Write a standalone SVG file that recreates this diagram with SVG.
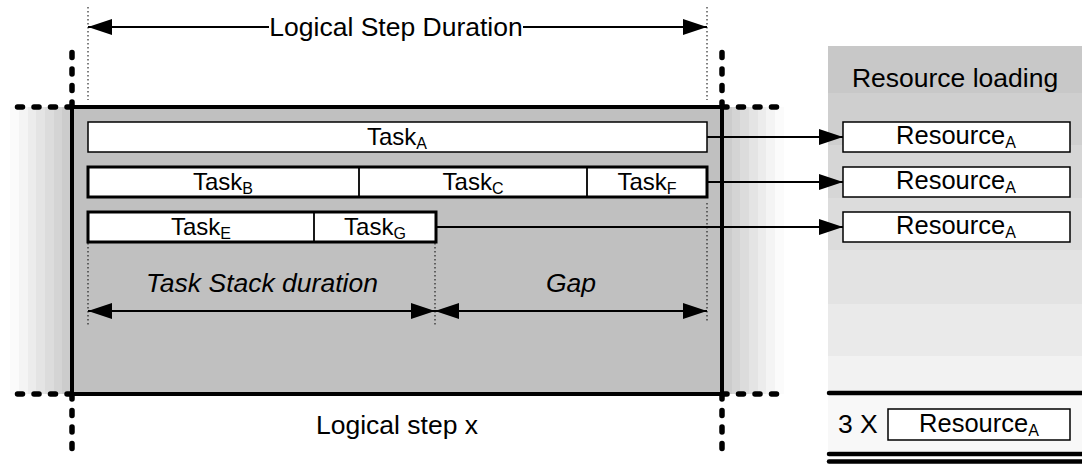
<svg xmlns="http://www.w3.org/2000/svg" width="1082" height="464" viewBox="0 0 1082 464">
  <style>
    text { font-family: "Liberation Sans", Arial, sans-serif; fill: #000; }
    .head { font-size: 26.5px; }
    .ital { font-size: 26.5px; font-style: italic; }
    .task { font-size: 24px; text-anchor: middle; }
    .res { font-size: 25.5px; text-anchor: middle; }
    .sub { font-size: 16px; }
    .box { fill: #fff; stroke: #000; stroke-width: 1.5; }
    .boxb { fill: #fff; stroke: #000; stroke-width: 3; }
    .div { stroke: #000; stroke-width: 1.8; }
    .dash { fill: none; stroke: #000; stroke-width: 5.5; stroke-linecap: round; stroke-dasharray: 5 11.5; }
    .dot { fill: none; stroke: #000; stroke-width: 1; stroke-dasharray: 1.5 2.5; }
    .dim { fill: none; stroke: #000; stroke-width: 2; }
    .link { fill: none; stroke: #000; stroke-width: 1.8; marker-end: url(#head); }
    .rule { fill: none; stroke: #000; stroke-width: 4.5; stroke-linecap: round; }
  </style>
  <defs>
    <marker id="head" markerUnits="userSpaceOnUse" markerWidth="24" markerHeight="16" refX="24" refY="8" orient="auto-start-reverse" viewBox="0 0 24 16">
      <path d="M0,0 L24,8 L0,16 z" fill="#000"/>
    </marker>
  </defs>

  <rect width="1082" height="464" fill="#fff"/>

  <!-- fading edges either side of the step -->
  <g id="fade-left">
    <rect x="10" y="107" width="9" height="287" fill="#fbfbfb"/>
    <rect x="19" y="107" width="9" height="287" fill="#f4f4f4"/>
    <rect x="28" y="107" width="8" height="287" fill="#ececec"/>
    <rect x="36" y="107" width="9" height="287" fill="#e4e4e4"/>
    <rect x="45" y="107" width="9" height="287" fill="#dcdcdc"/>
    <rect x="54" y="107" width="8" height="287" fill="#d4d4d4"/>
    <rect x="62" y="107" width="10" height="287" fill="#cccccc"/>
  </g>
  <g id="fade-right">
    <rect x="722" y="107" width="10" height="287" fill="#cccccc"/>
    <rect x="732" y="107" width="8" height="287" fill="#d4d4d4"/>
    <rect x="740" y="107" width="9" height="287" fill="#dcdcdc"/>
    <rect x="749" y="107" width="9" height="287" fill="#e4e4e4"/>
    <rect x="758" y="107" width="8" height="287" fill="#ececec"/>
    <rect x="766" y="107" width="9" height="287" fill="#f4f4f4"/>
    <rect x="775" y="107" width="9" height="287" fill="#fbfbfb"/>
  </g>

  <!-- resource loading panel -->
  <g id="resource-panel">
    <rect x="828" y="46" width="254" height="47" fill="#c8c8c8"/>
    <rect x="828" y="93" width="254" height="52" fill="#cfcfcf"/>
    <rect x="828" y="145" width="254" height="53" fill="#d6d6d6"/>
    <rect x="828" y="198" width="254" height="52" fill="#dcdcdc"/>
    <rect x="828" y="250" width="254" height="54" fill="#e3e3e3"/>
    <rect x="828" y="304" width="254" height="52" fill="#eaeaea"/>
    <rect x="828" y="356" width="254" height="37" fill="#f2f2f2"/>
    <rect x="828" y="393" width="254" height="58" fill="#f8f8f8"/>
    <text class="head" x="955" y="87" text-anchor="middle">Resource loading</text>
    <path class="rule" d="M829,393 H1082"/>
    <path class="rule" d="M829,454 H1082" stroke-width="3.5"/>
    <path class="rule" d="M829,461.5 H1082" stroke-width="3.5"/>
  </g>

  <!-- logical step frame -->
  <g id="logical-step">
    <rect x="72" y="107" width="650" height="287" fill="#c0c0c0" stroke="#000" stroke-width="4"/>
    <path class="dash" d="M72,107 H10 M72,107 V50 M72,394 H10 M72,394 V455"/>
    <path class="dash" d="M722,107 H784 M722,107 V50 M722,394 H784 M722,394 V455"/>
    <text class="head" x="397" y="434" text-anchor="middle">Logical step x</text>
  </g>

  <!-- extent guides -->
  <g id="guides">
    <path class="dot" d="M88,7 V100 M707,7 V100"/>
    <path class="dot" d="M88,243 V325 M435,243 V325 M707,203 V323"/>
  </g>

  <g id="task-a">
    <rect class="box" x="88" y="122" width="619" height="30"/>
    <text class="task" x="397" y="145">Task<tspan class="sub" dy="4">A</tspan></text>
  </g>
  <g id="task-row-bcf">
    <rect class="boxb" x="88" y="167" width="619" height="30"/>
    <path class="div" d="M359,167 V197 M587,167 V197"/>
    <text class="task" x="223" y="190">Task<tspan class="sub" dy="4">B</tspan></text>
    <text class="task" x="473" y="190">Task<tspan class="sub" dy="4">C</tspan></text>
    <text class="task" x="647" y="190">Task<tspan class="sub" dy="4">F</tspan></text>
  </g>
  <g id="task-row-eg">
    <rect class="boxb" x="88" y="212" width="348" height="30"/>
    <path class="div" d="M314,212 V242"/>
    <text class="task" x="201" y="235">Task<tspan class="sub" dy="4">E</tspan></text>
    <text class="task" x="375" y="235">Task<tspan class="sub" dy="4">G</tspan></text>
  </g>

  <g id="resource-1">
    <rect class="box" x="843" y="122" width="227" height="30"/>
    <text class="res" x="956" y="144">Resource<tspan class="sub" dy="4">A</tspan></text>
  </g>
  <g id="resource-2">
    <rect class="box" x="843" y="167" width="227" height="30"/>
    <text class="res" x="956" y="189">Resource<tspan class="sub" dy="4">A</tspan></text>
  </g>
  <g id="resource-3">
    <rect class="box" x="843" y="212" width="227" height="30"/>
    <text class="res" x="956" y="234">Resource<tspan class="sub" dy="4">A</tspan></text>
  </g>
  <g id="resource-total">
    <text class="head" x="838" y="433">3 X</text>
    <rect class="box" x="888" y="409" width="182" height="31"/>
    <text class="res" x="979" y="432">Resource<tspan class="sub" dy="4">A</tspan></text>
  </g>

  <!-- dimension labels -->
  <g id="dimensions">
    <text class="head" x="396" y="36" text-anchor="middle">Logical Step Duration</text>
    <path class="dim" d="M269,27 H88" marker-end="url(#head)"/>
    <path class="dim" d="M523,27 H707" marker-end="url(#head)"/>
    <text class="ital" x="262" y="292" text-anchor="middle">Task Stack duration</text>
    <path class="dim" d="M88,311 H435" marker-start="url(#head)" marker-end="url(#head)"/>
    <text class="ital" x="571" y="292" text-anchor="middle">Gap</text>
    <path class="dim" d="M435,311 H707" marker-start="url(#head)" marker-end="url(#head)"/>
  </g>

  <g id="connectors">
    <path class="link" d="M707,137 H843"/>
    <path class="link" d="M707,182 H843"/>
    <path class="link" d="M436,227 H843"/>
  </g>
</svg>
